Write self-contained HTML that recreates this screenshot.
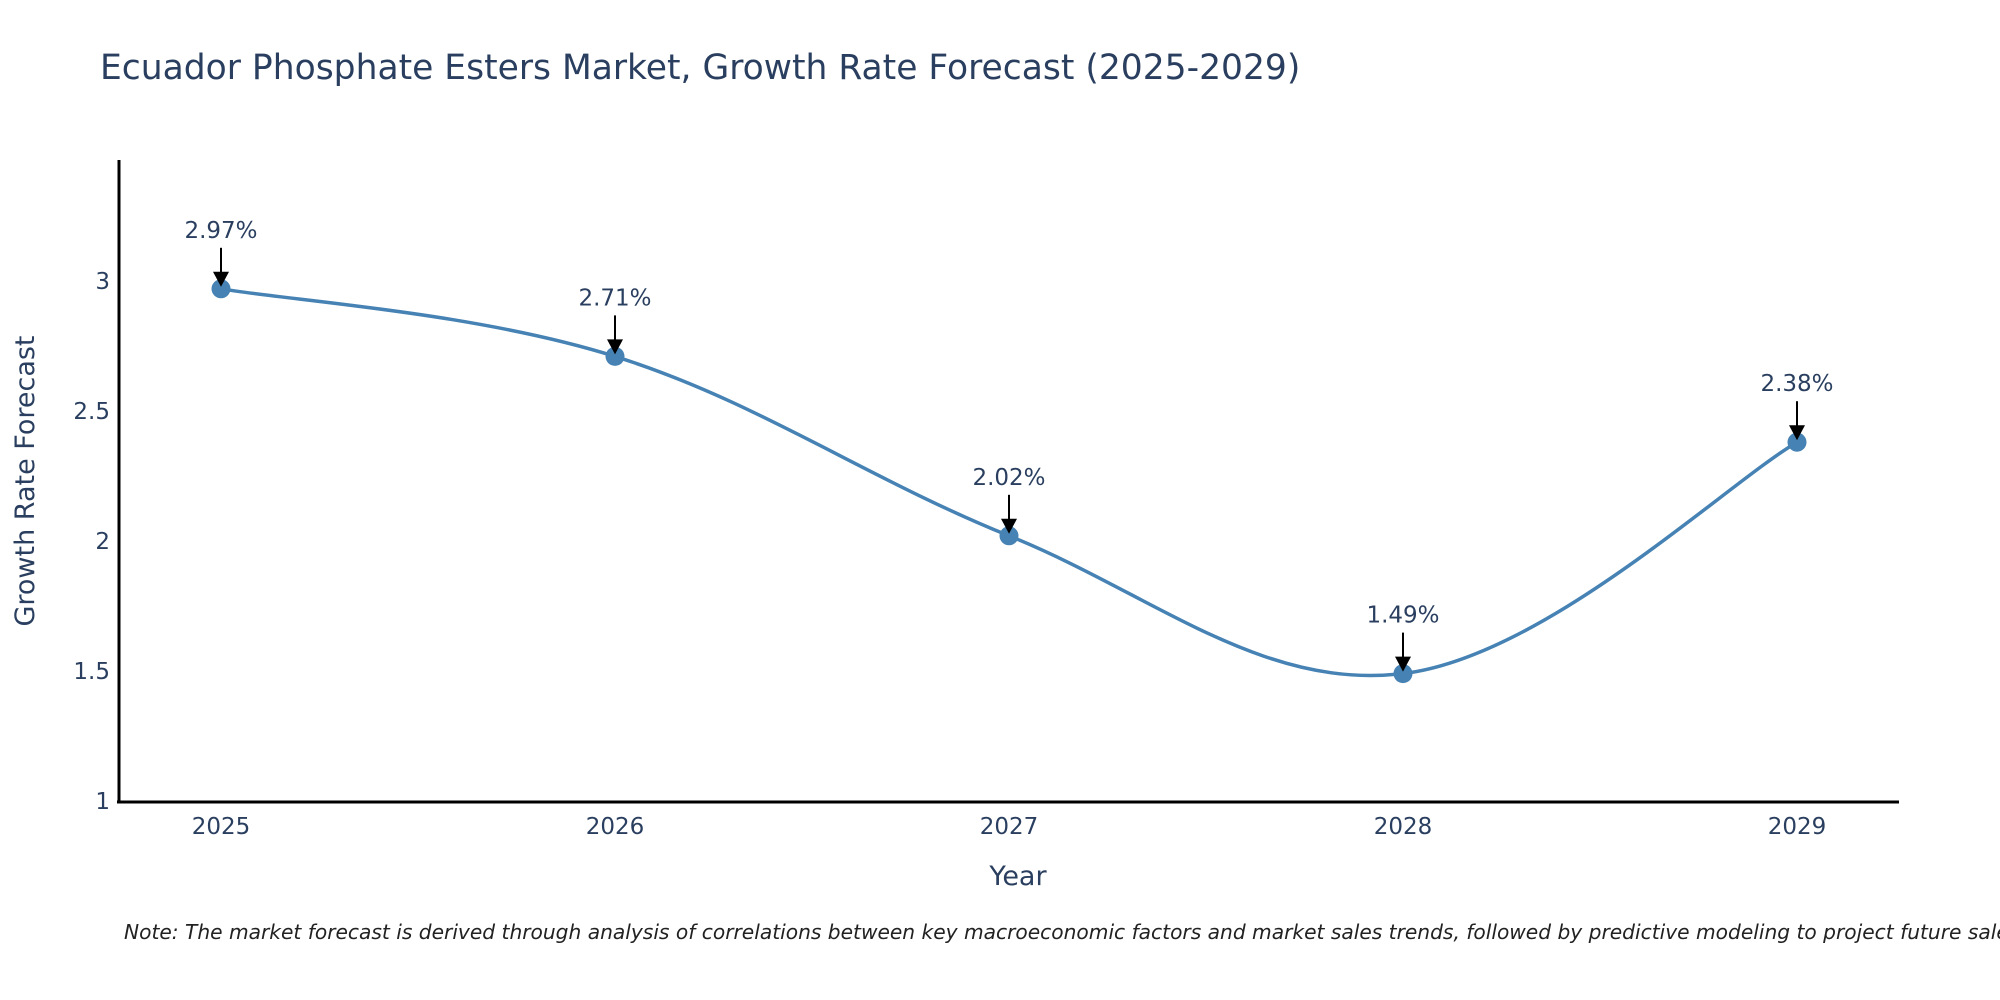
<!DOCTYPE html>
<html><head><meta charset="utf-8">
<style>
html,body{margin:0;padding:0;background:#fff;}
svg{display:block;font-family:"DejaVu Sans","Liberation Sans",sans-serif;}
</style></head>
<body>
<svg id="chart" width="2000" height="1000" viewBox="0 0 2000 1000">
<text x="100" y="79" font-size="34.5" fill="#2a3f5f">Ecuador Phosphate Esters Market, Growth Rate Forecast (2025-2029)</text>
<g id="yticks"></g>
<g id="xticks"></g>
<line x1="119" y1="160" x2="119" y2="802" stroke="#000" stroke-width="3"/>
<line x1="117" y1="802" x2="1899" y2="802" stroke="#000" stroke-width="3"/>
<path id="series" fill="none" stroke="#4682b4" stroke-width="3.5"/>
<g id="points"></g>
<g id="annots"></g>
<text x="1018" y="885" font-size="27" fill="#2a3f5f" text-anchor="middle">Year</text>
<text transform="translate(34,481) rotate(-90)" font-size="27" fill="#2a3f5f" text-anchor="middle">Growth Rate Forecast</text>
<text x="124" y="939" font-size="20.2" font-style="italic" fill="#222">Note: The market forecast is derived through analysis of correlations between key macroeconomic factors and market sales trends, followed by predictive modeling to project future sales.</text>
</svg>
<script>
const years = [2025, 2026, 2027, 2028, 2029];
const values = [2.97, 2.71, 2.02, 1.49, 2.38];
const yTickValues = [1, 1.5, 2, 2.5, 3];
const yTickLabels = ["1", "1.5", "2", "2.5", "3"];

const NS = "http://www.w3.org/2000/svg";
function xS(v){ return 221 + (v - 2025) * 394; }
function yS(v){ return 801 - (v - 1) * 260; }
function mk(tag, attrs, parent, txt){
  const e = document.createElementNS(NS, tag);
  for (const k in attrs) e.setAttribute(k, attrs[k]);
  if (txt !== undefined) e.textContent = txt;
  parent.appendChild(e);
  return e;
}
const yg = document.getElementById('yticks');
yTickValues.forEach((v, i) => {
  const t = mk('text', {x: 110, y: yS(v) + 8, 'font-size': 23, fill: '#2a3f5f', 'text-anchor': 'end'}, yg, yTickLabels[i]);
  
  
});
const xg = document.getElementById('xticks');
years.forEach(y => {
  const t = mk('text', {x: xS(y), y: 834, 'font-size': 23, fill: '#2a3f5f', 'text-anchor': 'middle'}, xg, String(y));
  
  
});
const pts = years.map((y, i) => [xS(y), yS(values[i])]);
let d = 'M' + pts[0][0] + ',' + pts[0][1];
const s = 0.18;
for (let i = 0; i < pts.length - 1; i++) {
  const p0 = pts[i - 1] || pts[i], p1 = pts[i], p2 = pts[i + 1], p3 = pts[i + 2] || pts[i + 1];
  const c1 = [p1[0] + (p2[0] - p0[0]) * s, p1[1] + (p2[1] - p0[1]) * s];
  const c2 = [p2[0] - (p3[0] - p1[0]) * s, p2[1] - (p3[1] - p1[1]) * s];
  d += ' C' + c1 + ' ' + c2 + ' ' + p2;
}
document.getElementById('series').setAttribute('d', d);
const pg = document.getElementById('points');
const ag = document.getElementById('annots');
pts.forEach((p, i) => {
  const c = mk('circle', {cx: p[0], cy: p[1], r: 9.5, fill: '#4682b4'}, pg);
  
  
  const l = mk('line', {x1: p[0], y1: p[1] - 41, x2: p[0], y2: p[1] - 12, stroke: '#000', 'stroke-width': 2}, ag);
  
  
  const h = mk('polygon', {points: (p[0]-8)+','+(p[1]-17)+' '+(p[0]+8)+','+(p[1]-17)+' '+p[0]+','+(p[1]-2), fill: '#000'}, ag);
  
  
  const t = mk('text', {x: p[0], y: p[1] - 51, 'font-size': 23, fill: '#2a3f5f', 'text-anchor': 'middle'}, ag, values[i].toFixed(2) + '%');
  
  
});
</script>
</body></html>
